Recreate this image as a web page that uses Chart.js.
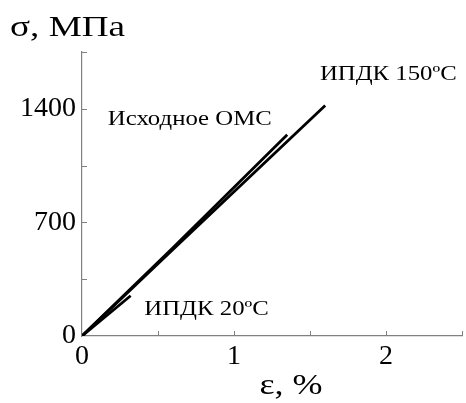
<!DOCTYPE html>
<html>
<head>
<meta charset="utf-8">
<script src="https://cdn.jsdelivr.net/npm/chart.js@4"></script>
<style>
  html, body { margin: 0; padding: 0; background: #fff; }
  #wrap { width: 466px; height: 403px; }
</style>
</head>
<body>
<div id="wrap"><canvas id="c" width="466" height="403"></canvas></div>
<script>
// strain, % / stress, MPa
const strainInit = [0, 0.6, 1.35];
const stressInit = [0, 545, 1240];
const strain150 = [0, 0.6, 1.6];
const stress150 = [0, 535, 1420];
const strain20 = [0, 0.32];
const stress20 = [0, 248];

const xTicksShown = [0, 1, 2];
const yTicksShown = [0, 700, 1400];

const labels = [
  { text: 'Исходное ОМС', x: 0.17, y: 1335 },
  { text: 'ИПДК 150ºС', x: 1.565, y: 1612 },
  { text: 'ИПДК 20ºС', x: 0.41, y: 166 },
];

const SERIF = "'Liberation Serif', 'DejaVu Serif', serif";
const AXIS = '#808080';

const pts = (xs, ys) => xs.map((x, i) => ({ x, y: ys[i] }));
const lineOpts = { borderColor: '#000', borderWidth: 2.8, pointRadius: 0, fill: false, tension: 0 };

// text in the source is a bit wider than Times, so stretch it horizontally
function wideText(ctx, text, x, y, sx, align) {
  ctx.save();
  const w = ctx.measureText(text).width * sx;
  const left = align === 'center' ? x - w / 2 : x;
  ctx.translate(left, y);
  ctx.scale(sx, 1);
  ctx.textAlign = 'left';
  ctx.fillText(text, 0, 0);
  ctx.restore();
}

// inward ticks + free text
const decor = {
  id: 'decor',
  afterDatasetsDraw(chart) {
    const { ctx, scales: { x, y }, chartArea: a } = chart;
    ctx.save();
    ctx.strokeStyle = AXIS;
    ctx.lineWidth = 1;
    x.ticks.forEach(t => {
      if (t.value === 0) return;
      const px = Math.round(x.getPixelForValue(t.value)) + 0.5;
      ctx.beginPath(); ctx.moveTo(px, a.bottom); ctx.lineTo(px, a.bottom - 5); ctx.stroke();
    });
    y.ticks.forEach(t => {
      if (t.value === 0) return;
      const py = Math.round(y.getPixelForValue(t.value)) + 0.5;
      ctx.beginPath(); ctx.moveTo(a.left, py); ctx.lineTo(a.left + 5, py); ctx.stroke();
    });

    ctx.fillStyle = '#000';
    ctx.textBaseline = 'middle';
    ctx.font = '21px ' + SERIF;
    labels.forEach(l => wideText(ctx, l.text, x.getPixelForValue(l.x), y.getPixelForValue(l.y), 1.18, 'left'));

    ctx.font = '30px ' + SERIF;
    wideText(ctx, 'σ, МПа', 10, 28, 1.24, 'left');
    wideText(ctx, 'ε, %', 291, 386, 1.2, 'center');
    ctx.restore();
  }
};

new Chart(document.getElementById('c'), {
  type: 'line',
  data: {
    datasets: [
      { label: 'Исходное ОМС', data: pts(strainInit, stressInit), ...lineOpts },
      { label: 'ИПДК 150ºС', data: pts(strain150, stress150), ...lineOpts },
      { label: 'ИПДК 20ºС', data: pts(strain20, stress20), ...lineOpts },
    ]
  },
  options: {
    responsive: false,
    animation: false,
    layout: { padding: { left: 0, right: 2, top: 52, bottom: 0 } },
    plugins: { legend: { display: false }, tooltip: { enabled: false } },
    scales: {
      x: {
        type: 'linear', min: 0, max: 2.5,
        afterFit: s => { s.height = 67; },
        grid: { display: false, drawTicks: false },
        border: { color: AXIS, width: 1.2 },
        ticks: {
          stepSize: 0.5, padding: 4, color: '#000', autoSkip: false, maxRotation: 0,
          font: { family: SERIF, size: 28 },
          callback: v => xTicksShown.includes(v) ? String(v) : ''
        }
      },
      y: {
        type: 'linear', min: 0, max: 1750,
        afterFit: s => { s.width = 82; },
        grid: { display: false, drawTicks: false },
        border: { color: AXIS, width: 1.2 },
        ticks: {
          stepSize: 350, padding: 6, color: '#000', autoSkip: false,
          font: { family: SERIF, size: 28 },
          callback: v => yTicksShown.includes(v) ? String(v) : ''
        }
      }
    }
  },
  plugins: [decor]
});
</script>
</body>
</html>
